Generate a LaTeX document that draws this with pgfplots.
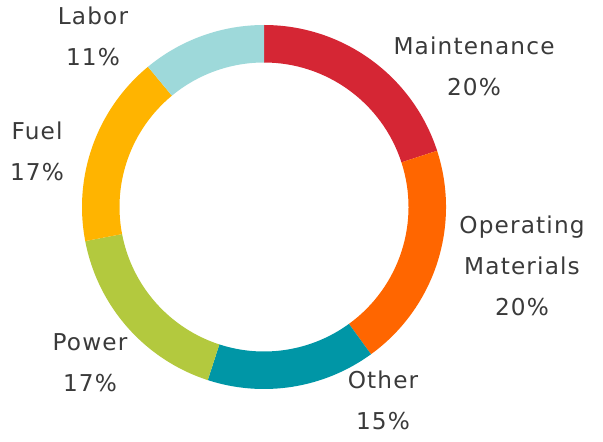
\documentclass[border=0pt]{standalone}
\usepackage{fontspec}
\setmainfont{DejaVu Sans}[LetterSpace=5]
\usepackage{pgfplots}
\usepackage{pgfplotstable}
\pgfplotsset{compat=1.18}

\definecolor{cMaint}{HTML}{D52634}
\definecolor{cOper}{HTML}{FF6600}
\definecolor{cOther}{HTML}{0096A6}
\definecolor{cPower}{HTML}{B3C93E}
\definecolor{cFuel}{HTML}{FFB400}
\definecolor{cLabor}{HTML}{9ED9DA}
\definecolor{txt}{HTML}{3A3A3A}

% shares clockwise from 12 o'clock; lx,ly = label centre (px, y up)
\pgfplotstableread[col sep=comma]{
label,value,color,lx,ly
Maintenance,20,cMaint,474,375
{Operating\\Materials},20,cOper,522,175
Other,15,cOther,383,41
Power,17,cPower,90,78
Fuel,17,cFuel,37,290
Labor,11,cLabor,93,405
}\shares

\begin{document}
\begin{tikzpicture}
\begin{axis}[scale only axis,width=301.5pt,height=220.5pt,
  xmin=0,xmax=603,ymin=0,ymax=441,hide axis,clip=false]
% 1 axis unit = 0.5pt, ring centre (264,234), radii 182 / 144.5 units
\coordinate (bl) at (axis cs:0,0);
\coordinate (tr) at (axis cs:603,441);
\pgfplotstablegetrowsof{\shares}
\pgfmathtruncatemacro\last{\pgfplotsretval-1}
\def\angA{90}
\pgfplotsforeachungrouped \i in {0,...,\last}{%
  \pgfplotstablegetelem{\i}{value}\of\shares \let\v\pgfplotsretval
  \pgfplotstablegetelem{\i}{color}\of\shares \let\segcol\pgfplotsretval
  \pgfplotstablegetelem{\i}{label}\of\shares \let\lab\pgfplotsretval
  \pgfplotstablegetelem{\i}{lx}\of\shares \let\lx\pgfplotsretval
  \pgfplotstablegetelem{\i}{ly}\of\shares \let\ly\pgfplotsretval
  \pgfmathsetmacro\angB{\angA-3.6*\v}
  \pgfmathsetmacro\angC{\angB+180}
  \edef\temp{%
    \noexpand\fill[\segcol] (axis cs:264,234) ++(\angA:91pt)
      arc[start angle=\angA,end angle=\angB,radius=91pt]
      -- ++(\angC:18.75pt)
      arc[start angle=\angB,end angle=\angA,radius=72.25pt] -- cycle;
    \noexpand\node[align=center,text=txt,inner sep=0pt,
      font=\noexpand\fontsize{11.6pt}{20.5pt}\noexpand\selectfont]
      at (axis cs:\lx,\ly) {\unexpanded\expandafter{\lab}\noexpand\\\v\noexpand\%};
  }%
  \temp
  \global\let\angA\angB
}
\end{axis}
\pgfresetboundingbox
\path (bl) rectangle (tr);
\end{tikzpicture}
\end{document}
